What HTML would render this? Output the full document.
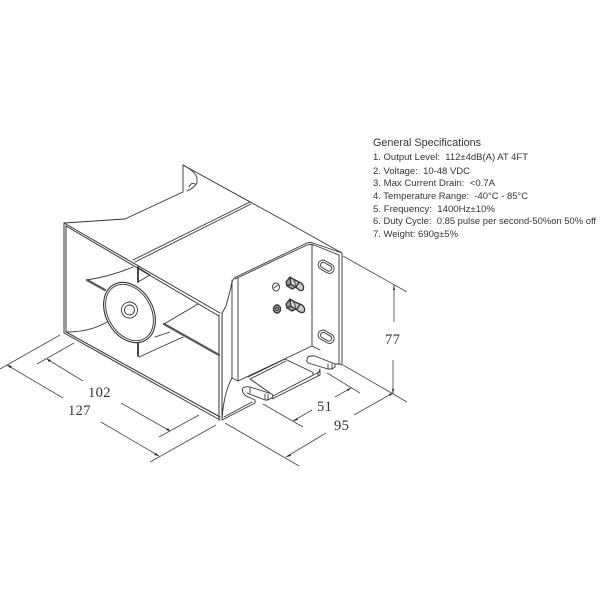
<!DOCTYPE html>
<html><head><meta charset="utf-8"><style>
html,body{margin:0;padding:0;background:#fff}
svg{display:block}
.a{font-family:"Liberation Sans",sans-serif;font-size:9.6px;fill:#333}
.d{font-family:"Liberation Serif",serif;font-size:14.500px;fill:#333;letter-spacing:.4px}
</style></head><body>
<svg width="600" height="600" viewBox="0 0 600 600" xmlns="http://www.w3.org/2000/svg">
<rect width="600" height="600" fill="#fff"/>
<g fill="none" stroke="#333" stroke-width=".9" stroke-linecap="round" stroke-linejoin="round" style="filter:blur(.25px)">
<!-- outer horn -->
<path d="M64 223Q95 221 125 219L183 192M183 192V165L250 202M183 165L283 220L342 253"/>
<path d="M183 165Q196 172 197 178V183Q194 188 187 191"/>
<path d="M189 187Q191 182 195 184"/>
<path d="M133 260L250 202M135 262L251 204"/>
<path d="M64 223L220 313M66 226L219 316" stroke-width="1"/>
<path d="M64 223V333M66 226V332M64 333L220 420M66 332L220 417M219 315V420M222 313V419" stroke-width="1"/>
<path d="M222 313L226 306Q230 292 232 282Q233 278 238 276L307 243Q310 242 313 243L342 253"/>
<!-- bracket -->
<path d="M235 279L307 245Q311 244 314 245L339 255M342 253V365M339 255V364M312 245V346M238 278V381L312 346L320 350M232 280V378Q224 392 222 419M232 378L238 381"/>
<!-- slots in bracket -->
<rect x="317.500" y="262" width="17" height="9.500" rx="4.700" transform="rotate(30 326 267)"/>
<rect x="320" y="264" width="12" height="5.500" rx="2.700" transform="rotate(30 326 267)"/>
<rect x="317.500" y="332" width="17" height="9.500" rx="4.700" transform="rotate(30 326 337)"/>
<rect x="320" y="334" width="12" height="5.500" rx="2.700" transform="rotate(30 326 337)"/>
<!-- bolts -->
<ellipse cx="276" cy="287" rx="3.500" ry="4"/><path d="M274 288L278 285"/>
<ellipse cx="277" cy="309" rx="3.500" ry="4" stroke-width="1.400" fill="#aaa"/><circle cx="277" cy="309" r="1.500"/>
<g stroke-width="1.300">
<path d="M286 282L290 277L295 280L296 287L292 289L287 286ZM290 277L291 284L296 287M287 286L291 284" fill="#999"/>
<path d="M295 280L301 283Q305 286 303 290Q300 292 296 287M299 282L296 287" fill="#ccc"/>
<path d="M286 304L290 299L295 302L296 309L292 311L287 308ZM290 299L291 306L296 309M287 308L291 306" fill="#999"/>
<path d="M295 302L302 305Q306 308 304 312Q301 314 296 309M300 304L297 309" fill="#ccc"/>
</g>
<!-- base -->
<path d="M222 420L255 403V400L246 396Q241 392 243 388Q246 386 250 387L272 394L273 397L268 400H265L247 393"/>
<path d="M250 388V393M265 394V399M268 394.500V400M224 417L252 402"/>
<path d="M248 377L285 359L312 372M250 379L286 361M250 379L270 393M273 396L319 372L320 369M272 399L320 375V370M313 372V375M318 372V376"/>
<path d="M307 360Q307 356 311 356H315L335 364H340M308 363Q306 361 307 360M308 363L328 369H332L335 367V364M328 364V369M332 364V369M340 364L342 365"/>
<!-- interior -->
<path d="M87 280Q112 276 133 267M138 267V282L150 275L139 268"/>
<path d="M164 324L198 304M139 357L183 337M155 337L170 332M67 332Q90 332 107 322"/>
<path d="M87 280L105 290M164 324L219 355" stroke="#555" stroke-width="2.200"/>
<path d="M138 267V282M138 340V356" stroke-width="1.800"/>
<ellipse cx="129.500" cy="312.500" rx="23.500" ry="32" transform="rotate(-30 129.500 312.500)" fill="#fff" stroke-width="1.100"/>
<ellipse cx="129.500" cy="312.500" rx="21.500" ry="30" transform="rotate(-30 129.500 312.500)"/>
<circle cx="129.500" cy="310" r="8"/><circle cx="129.500" cy="310" r="5"/>
</g>
<!-- dimensions -->
<g fill="none" stroke="#444" stroke-width=".8" style="filter:blur(.2px)">
<path d="M60 335L0 369M7 365L63 398M101 422L159 456M150 462L216 425"/>
<path d="M74 343L37 364M47 359L83 381M121 403L170 431M199 415L159 437"/>
<path d="M225 423L299 466M286 457L326 433M354 415L393 393M343 365L407 402"/>
<path d="M263 404L303 427M293 421L312 410M335 397L351 388M327 373L360 393"/>
<path d="M343 256L407 292M394 285V322M393 360V394"/>
</g>
<g fill="#222">
<path d="M7 365l5 1-2 2zM159 456l-5-1 2-2zM47 359l4 1-2 2zM170 431l-4-1 2-2zM286 457l4-3 1 2zM393 393l-4 1 1 2zM293 421l4-3 1 2zM351 388l-4 1 1 2zM394 285l-1 5h2zM393 394l-1-5h2z"/>
</g>
<text class="d" x="88" y="397">102</text>
<text class="d" x="68" y="415">127</text>
<text class="d" x="334" y="430">95</text>
<text class="d" x="317" y="411">51</text>
<text class="d" x="385" y="344">77</text>
<!-- specs -->
<text class="a" x="373" y="146" style="font-size:11px" textLength="108" lengthAdjust="spacingAndGlyphs">General Specifications</text>
<text class="a" x="373" y="160" textLength="155" lengthAdjust="spacingAndGlyphs">1. Output Level: &#160;112±4dB(A) AT 4FT</text>
<text class="a" x="373" y="174" textLength="97" lengthAdjust="spacingAndGlyphs">2. Voltage: &#160;10-48 VDC</text>
<text class="a" x="373" y="186" textLength="122" lengthAdjust="spacingAndGlyphs">3. Max Current Drain: &#160;&lt;0.7A</text>
<text class="a" x="373" y="199" textLength="155" lengthAdjust="spacingAndGlyphs">4. Temperature Range: &#160;-40°C - 85°C</text>
<text class="a" x="373" y="212" textLength="122" lengthAdjust="spacingAndGlyphs">5. Frequency: &#160;1400Hz±10%</text>
<text class="a" x="373" y="224" textLength="223" lengthAdjust="spacingAndGlyphs">6. Duty Cycle: &#160;0.85 pulse per second-50%on 50% off</text>
<text class="a" x="373" y="237" textLength="85" lengthAdjust="spacingAndGlyphs">7. Weight: 690g±5%</text>
</svg>
</body></html>
